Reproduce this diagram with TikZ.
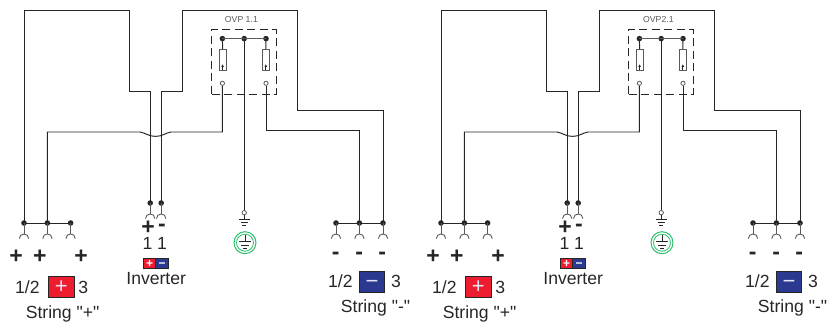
\documentclass[tikz,border=0pt]{standalone}
\usepackage{fontspec}
\setmainfont{Liberation Sans}[Ligatures=TeXOff]
\definecolor{ink}{HTML}{262626}
\definecolor{soft}{HTML}{5A5A5A}
\definecolor{redbox}{HTML}{ED1C2E}
\definecolor{bluebox}{HTML}{2B3990}
\definecolor{pegreen}{HTML}{2DBE6C}
\definecolor{pale}{HTML}{E4E4F4}
\tikzset{
  wire/.style={draw=ink,line width=0.98pt,line join=miter},
  thin wire/.style={draw=soft,line width=0.9pt},
  dot/.style={circle,fill=ink,draw=none,inner sep=0pt,minimum size=5.6pt},
  ring/.style={circle,draw=soft,fill=white,line width=0.8pt,inner sep=0pt,minimum size=4.2pt},
  lbl/.style={anchor=base,inner sep=0pt,text=ink,font=\fontsize{17.6}{20}\selectfont},
  sign/.style={anchor=base,inner sep=0pt,text=ink,font=\fontsize{23}{26}\selectfont\bfseries},
  ovp/.style={anchor=base,inner sep=0pt,text=soft,font=\fontsize{8.7}{10}\selectfont},
  resistor/.style={rectangle,draw=soft,fill=white,line width=0.9pt,inner sep=0pt,minimum width=7.3pt,minimum height=20.5pt},
  dashbox/.style={rectangle,draw=ink,dash pattern=on 8pt off 4.5pt,line width=0.98pt,inner sep=0pt,minimum width=64.3pt,minimum height=65pt},
  colorbox/.style={rectangle,draw=ink,line width=0.98pt,inner sep=0pt,text=pale,text height=14.5pt,text depth=0pt,font=\fontsize{22}{24}\selectfont},
  minibox/.style={colorbox,text=white,minimum width=13pt,minimum height=10.6pt,text height=7.9pt,font=\fontsize{12}{13}\selectfont\bfseries},
}
\newcommand{\mysocket}[1]{%
  \draw[thin wire] ([shift={(-4.7,4.6)}]#1) .. controls +(0,-6.1) and +(0,-6.1) .. ([shift={(4.7,4.6)}]#1);}
\newcommand{\myground}[2]{%
  \draw[wire,line width=0.8pt] ([shift={(-#2,0)}]#1) -- ([shift={(#2,0)}]#1)
    ([shift={(-0.64*#2,3.2)}]#1) -- ([shift={(0.64*#2,3.2)}]#1)
    ([shift={(-0.32*#2,6.2)}]#1) -- ([shift={(0.32*#2,6.2)}]#1);}
\begin{document}
\begin{tikzpicture}[x=1pt,y=-1pt]
\useasboundingbox (0,0) rectangle (830,322);
\foreach \g/\ox/\lab in {a/0/{OVP 1.1},b/417/{OVP2.1}}{
\begin{scope}[shift={(\ox,0)}]
  % OVP box and title
  \node[dashbox] (\g-box) at (244,61.8) {};
  \node[ovp] (\g-title) at (241.4,22.7) {\lab};
  % junctions
  \node[dot] (\g-p1) at (24,223) {};
  \node[dot] (\g-p2) at (47.4,223) {};
  \node[dot] (\g-p3) at (70.6,223) {};
  \node[dot] (\g-i1) at (150.2,203) {};
  \node[dot] (\g-i2) at (161.2,203) {};
  \node[dot] (\g-m1) at (336,223) {};
  \node[dot] (\g-m2) at (359.4,223) {};
  \node[dot] (\g-m3) at (383,223) {};
  \node[dot] (\g-o1) at (222.4,38.6) {};
  \node[dot] (\g-o2) at (244.2,38.6) {};
  \node[dot] (\g-o3) at (266,38.6) {};
  % OVP internals
  \node[resistor] (\g-r1) at (222.6,59.7) {};
  \node[resistor] (\g-r3) at (265.8,59.7) {};
  \node[ring] (\g-c1) at (222.4,83.3) {};
  \node[ring] (\g-c3) at (266,83.3) {};
  \draw[wire] (\g-o1.center) -- (\g-r1.north);
  \draw[wire] (\g-o3.center) -- (\g-r3.north);
  \draw[wire,line width=0.8pt] (\g-r1.south) -- ++(0,-4);
  \draw[wire,line width=0.8pt] (\g-r3.south) -- ++(0,-4);
  \fill[ink] ([shift={(0,-6)}]\g-r1.south) -- ++(1.3,2.4) -- ++(-2.6,0) -- cycle;
  \fill[ink] ([shift={(0,-6)}]\g-r3.south) -- ++(1.3,2.4) -- ++(-2.6,0) -- cycle;
  \draw[thin wire,line width=0.98pt] (\g-o1.center) -- (\g-o3.center);
  % strings and wires
  \draw[wire] (\g-p1.center) -- (\g-p3.center);
  \draw[wire] (\g-m1.center) -- (\g-m3.center);
  \draw[wire] (\g-p1.center) -- (24,10) -- (129,10) -- (129,91) -- (150.2,91) -- (\g-i1.center);
  \draw[wire] (\g-i2.center) -- (161.2,91) -- (182.7,91) -- (182.7,10) -- (297.8,10) -- (297.8,110) -- (383,110) -- (\g-m3.center);
  \coordinate (\g-h1) at (140,132);
  \coordinate (\g-h2) at (171,132);
  \draw[wire] (\g-p2.center) -- (47.4,132) -- (\g-h1)
     .. controls (146,133) and (148,136.3) .. (155.5,136.3)
     .. controls (163,136.3) and (165,133) .. (\g-h2)
     -- (222.4,132) -- (\g-c1.south);
  \draw[wire] (\g-c3.south) -- (266,130.5) -- (359.4,130.5) -- (\g-m2.center);
  % ground
  \node[ring,minimum size=4.4pt] (\g-gc) at (244.2,212.7) {};
  \coordinate (\g-gs) at (244.2,219.3);
  \draw[wire] (\g-o2.center) -- (\g-gc.north);
  \draw[wire,line width=0.8pt] (\g-gc.south) -- (\g-gs);
  \myground{\g-gs}{5.6}
  \node[circle,draw=pegreen,line width=1pt,inner sep=0pt,minimum size=22pt,fill=white] (\g-pe) at (245,242.7) {};
  \node[circle,draw=pegreen,line width=0.8pt,inner sep=0pt,minimum size=17pt] (\g-pei) at (245,242.7) {};
  \coordinate (\g-pg) at (245,241.8);
  \draw[wire,line width=0.8pt] (\g-pe.center)+(0,-7.5) -- (\g-pg);
  \myground{\g-pg}{5.6}
  % sockets
  \foreach \n/\dy in {p1/11,p2/11,p3/11,m1/11,m2/11,m3/11,i1/11,i2/11}{
    \coordinate (\g-s\n) at ([yshift=-\dy pt]\g-\n.center);
    \draw[thin wire] (\g-\n.center) -- (\g-s\n);
    \mysocket{\g-s\n}
  }
  % signs
  \node[sign] (\g-plus1) at (16,263) {+};
  \node[sign] (\g-plus2) at (39.8,263) {+};
  \node[sign] (\g-plus3) at (81,263) {+};
  \node[sign] (\g-iplus) at (148,234) {+};
  \node[sign] (\g-iminus) at (162,231.5) {-};
  \node[sign] (\g-minus1) at (335.6,259) {-};
  \node[sign] (\g-minus2) at (359.2,259) {-};
  \node[sign] (\g-minus3) at (382.2,259) {-};
  \node[lbl] (\g-one1) at (147.6,249) {1};
  \node[lbl] (\g-one2) at (162,249) {1};
  % inverter
  \node[minibox,fill=redbox] (\g-invp) at (149.6,263.5) {+};
  \node[minibox,fill=bluebox] (\g-invm) at (162.2,263.5) {−};
  \node[lbl] (\g-inv) at (156.2,284) {Inverter};
  % string +
  \node[lbl] (\g-pa) at (27.4,293) {1/2};
  \node[colorbox,fill=redbox,minimum width=25.5pt,minimum height=21pt] (\g-pbox) at (61.4,286.7) {+};
  \node[lbl] (\g-pb) at (83.2,293) {3};
  \node[lbl] (\g-pl) at (62.6,318) {String "+"};
  % string -
  \node[lbl] (\g-ma) at (340.4,287) {1/2};
  \node[colorbox,fill=bluebox,minimum width=25.5pt,minimum height=21pt] (\g-mbox) at (372,281.7) {−};
  \node[lbl] (\g-mb) at (396,287) {3};
  \node[lbl] (\g-ml) at (375.6,312) {String "-"};
\end{scope}
}
\end{tikzpicture}
\end{document}
